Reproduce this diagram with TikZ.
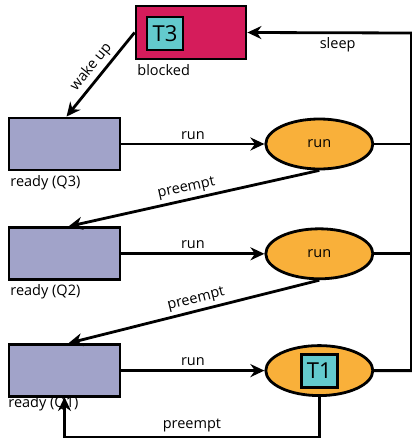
\documentclass[tikz,border=0pt]{standalone}
\usepackage{fontspec}
\setmainfont{Open Sans}
\usepackage{tikz}
\usetikzlibrary{positioning, shapes, arrows, arrows.meta}

\definecolor{blockred}{HTML}{D51C5B}
\definecolor{taskteal}{HTML}{63CACD}
\definecolor{runorange}{HTML}{F9B03A}
\definecolor{queueblue}{HTML}{A1A3C9}

\begin{document}
\begin{tikzpicture}[x=1pt, y=-1pt, line width=2.8pt,
  queue/.style={draw, fill=queueblue, minimum width=111pt, minimum height=52pt, inner sep=0pt},
  cpu/.style={draw, ellipse, fill=runorange, minimum width=107pt, minimum height=50pt, inner sep=0pt},
  task/.style={draw, fill=taskteal, minimum width=36pt, minimum height=33pt, inner sep=0pt, font=\fontsize{22}{22}\selectfont},
  lab/.style={font=\fontsize{14.5}{16}\selectfont},
  arr/.style={-{Stealth[length=14pt, width=13pt]}}]
\useasboundingbox (0,0) rectangle (412,439);
\node (blocked) [draw, fill=blockred, minimum width=110pt, minimum height=53pt, inner sep=0pt] at (191,32.5) {};
\node (T3) [task] at (165,33.5) {T3};
\node [lab, anchor=north west, inner sep=0pt] at (136,63) {blocked};
\node (Q3) [queue] at (64.5,144) {};
\node (Q2) [queue, below=55pt of Q3] {};
\node (Q1) [queue, below=62pt of Q2] {};
\node (R3) [cpu, right=143pt of Q3, lab] {run};
\node (R2) [cpu, right=143pt of Q2, lab] {run};
\node (R1) [cpu, right=143pt of Q1] {};
\node (T1) [task] at (R1) {T1};
\node [lab, anchor=north west, inner sep=0pt] at (9,174) {ready (Q3)};
\node [lab, anchor=north west, inner sep=0pt] at (9,283) {ready (Q2)};
\node [lab, anchor=north west, inner sep=0pt] at (7,395) {ready (Q1)};
\coordinate (corner) at (411.5,33);
\coordinate (bottom) at (0,437);
% run / sleep
\draw [arr] (Q3) edge node[lab, above] {run} (R3)
  (Q2) edge node[lab, above] {run} (R2)
  (Q1) edge node[lab, above] {run} (R1);
\draw (R3.east) -- (R3.east -| corner) (R2.east) -- (R2.east -| corner);
\draw [arr] (R1.east) -| (corner) -- node[lab, below, pos=0.45] {sleep} (blocked.east);
% wake up and preempt
\draw [arr] (blocked.west) -- node[lab, sloped, above] {wake up} ([xshift=2pt]Q3.north);
\draw [arr] (R3.south) -- node[lab, sloped, above, pos=0.52] {preempt} ([xshift=4pt]Q2.north);
\draw [arr] (R2.south) -- node[lab, sloped, above, pos=0.48] {preempt} ([xshift=4pt]Q1.north);
\draw [arr] (R1.south) -- (R1.south |- bottom) -- node[lab, above] {preempt} (bottom -| Q1.south) -- ([yshift=1pt]Q1.south);
\end{tikzpicture}
\end{document}
